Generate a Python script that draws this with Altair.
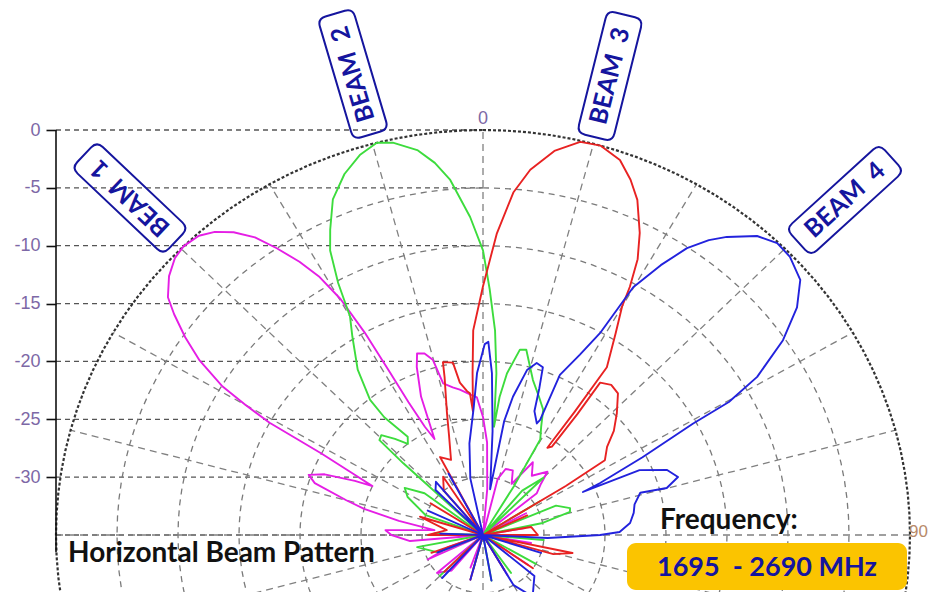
import altair as alt
import pandas as pd
import numpy as np

# ---------------- data ----------------
floor_db = -35                      # centre of the polar plot
ring_levels = [-30, -25, -20, -15, -10, -5]
outer_level = 0
y_tick_values = [-30, -25, -20, -15, -10, -5, 0]
hgrid_levels = [-35, -30, -25, -20, -15, -10, -5, 0]
radial_angles = list(range(0, 360, 15))
axis_angles = [0, 90, 180, 270]
beam_names = ["BEAM 1", "BEAM 2", "BEAM 3", "BEAM 4"]
beam_colors = ["#e51ee5", "#3ddc3d", "#e82222", "#2222dd"]

# (angle in degrees, level in dB); values below -35 dB sit at the centre
beam1 = [(-180, -37), (-160, -32), (-150, -37), (-140, -31), (-131, -30), (-124, -37),
         (-115, -30), (-110, -32), (-104, -37), (-95, -29), (-90, -27.5), (-87, -27),
         (-84, -31), (-80, -28), (-77, -25), (-75, -23.4), (-72, -20.5), (-70, -19.8),
         (-68, -21), (-66, -23.5), (-65, -25), (-63.5, -23), (-62, -20), (-61, -15),
         (-60, -12.5), (-59, -10.1), (-57, -7.3), (-55, -5.2), (-53, -3.3), (-51.5, -2.0),
         (-49, -0.9), (-46.5, -0.2), (-44.5, 0), (-42, -0.2), (-40, -0.8), (-38, -1.8),
         (-36, -3.2), (-34.3, -5), (-32.5, -7), (-31, -9), (-29.8, -11.5), (-29, -15),
         (-28.5, -19), (-28, -22), (-27, -24.5), (-25.6, -25.8), (-23, -22), (-20.5, -19.5),
         (-19, -18.4), (-17, -18.6), (-15.2, -19.3), (-14, -21.5), (-11, -22), (-8.6, -22.3),
         (-5, -22.8), (-2.4, -23.1), (0, -24.8), (2.4, -27), (5, -31), (8, -37), (14, -30),
         (18, -29), (23.6, -28.9), (28, -30), (33, -27.5), (38, -28.5), (44, -27.4),
         (47, -28.5), (50.7, -29.3), (54, -37), (62, -31), (70, -37), (80, -31.5), (88, -37),
         (100, -31), (110, -37), (125, -30.5), (135, -37), (150, -31), (165, -37), (180, -37)]

beam2 = [(-180, -37), (-165, -32), (-150, -37), (-135, -30), (-125, -37), (-112, -31),
         (-101, -29.5), (-96, -37), (-88, -31), (-80, -37), (-70, -30), (-62, -28),
         (-57.6, -27.4), (-53, -29), (-50, -37), (-46.5, -26), (-46, -23.2), (-44, -23),
         (-41, -24), (-38, -25), (-36, -24.5), (-38.5, -22), (-38.4, -20.1), (-35.7, -17.4),
         (-32, -14.8), (-30, -13.2), (-28.6, -10.2), (-27, -7.4), (-25.4, -5.8), (-23, -3.5),
         (-20, -1.8), (-17.1, -0.65), (-14.4, 0), (-12.3, -0.3), (-9.2, -1.3), (-7, -2.6),
         (-5, -4.2), (-2.2, -7.5), (0, -10.4), (1.5, -13.8), (3.2, -17.3), (4.5, -21),
         (5.5, -25.6), (6.5, -23), (8, -20.9), (10.7, -18.7), (12.5, -18.6), (14, -19.5),
         (17, -21), (21, -22.2), (24.5, -23.1), (27, -24.5), (29.6, -25.5), (31, -30),
         (33, -37), (40, -30), (45, -28), (50, -37), (58, -29.5), (62, -37), (67, -28.5),
         (72, -27.5), (74.4, -27.6), (78, -30), (82, -37), (95, -30), (105, -37), (120, -30),
         (132, -37), (145, -31), (160, -37), (170, -31), (180, -37)]

beam3 = [(-180, -37), (-165, -31), (-150, -37), (-135, -30.5), (-122, -37), (-110, -30.5),
         (-100, -37), (-90, -30.5), (-82, -32), (-73, -29.6), (-66, -37), (-57.5, -29.9),
         (-50, -37), (-40, -30), (-33, -29), (-30, -37), (-27.6, -27.4), (-22, -28),
         (-18, -26), (-15.6, -24), (-13, -21), (-12.4, -19.7), (-9.4, -19.9), (-8.2, -21.7),
         (-6, -22.5), (-5, -22.7), (-4.4, -24.3), (-3.5, -21), (-2.6, -17.3), (0, -13.5),
         (2.5, -8.9), (4.8, -5.3), (7, -3.2), (10, -1.3), (13.2, -0.1), (16, 0), (19.1, -0.7),
         (21.5, -2), (23.6, -3.4), (26.2, -5.9), (28, -8), (29.3, -10.4), (30, -12.2),
         (32, -14.5), (35, -17.3), (35.2, -22), (35, -25.8), (36.5, -25.5), (36.5, -22),
         (36.1, -18.7), (39, -18.3), (42.1, -18.5), (46.2, -19.8), (50, -21), (53.2, -22.3),
         (57.1, -23.1), (58, -27), (59.5, -37), (65, -31), (72, -37), (80, -31), (90, -30.5),
         (96, -37), (102, -27.5), (106, -29), (112, -37), (125, -30), (138, -37),
         (150, -31.5), (165, -37), (180, -37)]

beam4 = [(-180, -37), (-165, -31), (-150, -37), (-138, -30), (-125, -37), (-112, -31),
         (-100, -37), (-88, -31.5), (-78, -37), (-65, -30), (-55, -37), (-45, -29.5),
         (-40, -29), (-36, -37), (-28, -29), (-20, -37), (-12, -30), (-8, -27), (-4, -24),
         (-2, -21), (0.5, -18.5), (1.5, -18.3), (3, -21), (5, -26), (8.4, -31), (10, -25),
         (11.6, -22.8), (14.2, -20.3), (16.5, -19.5), (18.7, -19.7), (20, -21.5),
         (21.5, -23.5), (24.6, -24.4), (25.2, -24), (24.5, -19.8), (27, -17.5), (28.8, -15.1),
         (29.9, -10.3), (32, -7.5), (34, -5.1), (36, -3.5), (37.8, -2.4), (41, -0.76),
         (43.7, -0.1), (46.3, -0.2), (49.7, -0.9), (52.6, -2.6), (55.6, -5.2), (58.7, -8.7),
         (60.3, -11.8), (60.8, -15.3), (62.8, -20.3), (64.9, -24.4), (65.6, -26), (66.4, -21),
         (69.6, -18.9), (72.6, -18.25), (74.9, -19.4), (74.2, -21.6), (78, -22.3),
         (81.2, -22.5), (85.1, -22.9), (88.7, -23.8), (90, -25.4), (92.8, -29.7), (97, -37),
         (108, -30), (118, -37), (130, -29.5), (142.6, -28.3), (150, -30), (157, -37),
         (170, -31), (180, -37)]

beams = [beam1, beam2, beam3, beam4]

# ---------------- layout ----------------
W, H = 864, 584
XS = alt.Scale(domain=[-35, -35 + W / 12.2], nice=False, zero=False)
YS = alt.Scale(domain=[-(8 + H - 130) / 11.5714, (130 - 8) / 11.5714], nice=False, zero=False)
YAX = alt.Axis(values=y_tick_values, title=None, domain=False, grid=False, ticks=True,
               tickSize=10, tickColor="#111", tickWidth=1.6, labelPadding=6,
               labelFontSize=18, labelFont="Liberation Sans", labelColor="#7d68a6",
               labelExpr="datum.value == 0 ? '0' : '-' + abs(datum.value)")
X = alt.X("x:Q", scale=XS, axis=None)
Y = alt.Y("y:Q", scale=YS, axis=YAX)

polar_x = "max(datum.db - %d, 0) * sin(datum.theta * PI / 180)" % floor_db
polar_y = "max(datum.db - %d, 0) * cos(datum.theta * PI / 180) + %d" % (floor_db, floor_db)

# horizontal grid (left half only)
hgrid = alt.Chart(pd.DataFrame({"level": hgrid_levels})).transform_calculate(
    x="%d" % floor_db, x2="0", y="datum.level"
).mark_rule(color="#555", strokeDash=[5, 4], strokeWidth=1.3).encode(x=X, x2="x2:Q", y=Y)

# concentric rings
ang = list(range(0, 361, 3))
ring_df = pd.DataFrame([(lv, a) for lv in ring_levels for a in ang], columns=["db", "theta"])
rings = alt.Chart(ring_df).transform_calculate(x=polar_x, y=polar_y).mark_line(
    color="#7a7a7a", strokeDash=[6, 5], strokeWidth=1.3
).encode(x=X, y=Y, detail="db:N", order="theta:Q")

outer_df = pd.DataFrame([(outer_level, a) for a in ang], columns=["db", "theta"])
outer = alt.Chart(outer_df).transform_calculate(x=polar_x, y=polar_y).mark_line(
    color="#333", strokeDash=[3, 2], strokeWidth=2.2
).encode(x=X, y=Y, order="theta:Q")

# radial spokes: main axes from the centre, the others from the innermost ring
spoke_df = pd.DataFrame({"theta": radial_angles})
spoke_df["start"] = [0 if a in axis_angles else ring_levels[0] - floor_db for a in radial_angles]
radials = alt.Chart(spoke_df).transform_calculate(
    x="datum.start * sin(datum.theta * PI / 180)",
    y="datum.start * cos(datum.theta * PI / 180) + %d" % floor_db,
    x2="%d * sin(datum.theta * PI / 180)" % (outer_level - floor_db),
    y2="%d * cos(datum.theta * PI / 180) + %d" % (outer_level - floor_db, floor_db),
).mark_rule(color="#808080", strokeDash=[7, 5], strokeWidth=1.3).encode(
    x=X, y=Y, x2="x2:Q", y2="y2:Q")

# y axis line
axis_line = alt.Chart(pd.DataFrame({"v": [0]})).transform_calculate(
    x="-35", y="0", y2="-36.5"
).mark_rule(color="#111", strokeWidth=1.6).encode(x=X, y=Y, y2="y2:Q")

# beam traces
rows = []
for name, pts in zip(beam_names, beams):
    for i, (t, d) in enumerate(pts):
        rows.append({"beam": name, "i": i, "theta": t, "db": d})
beam_df = pd.DataFrame(rows)
traces = alt.Chart(beam_df).transform_calculate(x=polar_x, y=polar_y).mark_line(
    strokeWidth=1.9, strokeJoin="round"
).encode(
    x=X, y=Y,
    color=alt.Color("beam:N", scale=alt.Scale(domain=beam_names, range=beam_colors), legend=None),
    detail="beam:N", order="i:Q")

one = pd.DataFrame({"k": [0]})
NAVY = "#15159e"
box_path = ("M -0.87 -0.29 L 0.87 -0.29 Q 1 -0.29 1 -0.16 L 1 0.16 Q 1 0.29 0.87 0.29 "
            "L -0.87 0.29 Q -1 0.29 -1 0.16 L -1 -0.16 Q -1 -0.29 -0.87 -0.29 Z")


def beam_label(txt, px, py, angle):
    box = alt.Chart(one).mark_point(shape=box_path, size=126 * 126, angle=angle, filled=False,
                                    stroke=NAVY, strokeWidth=2, opacity=1).encode(
        x=alt.value(px - 56), y=alt.value(py - 8))
    t = alt.Chart(one).mark_text(text=txt, angle=angle, font="Lato", fontWeight="bold",
                                 fontSize=25, color=NAVY, align="center", baseline="middle").encode(
        x=alt.value(px - 56), y=alt.value(py - 8))
    return [box, t]


labels = []
labels += beam_label("BEAM\u00a0 1", 130, 198, 223.4)
labels += beam_label("BEAM\u00a0 2", 353, 74, 253.5)
labels += beam_label("BEAM\u00a0 3", 610, 76, 284)
labels += beam_label("BEAM\u00a0 4", 845, 200, 317.7)

zero_lbl = alt.Chart(one).mark_text(text="0", font="Liberation Sans", fontSize=18, color="#7d68a6",
                                    align="center", baseline="bottom").encode(
    x=alt.value(483 - 56), y=alt.value(128 - 8))
ninety_lbl = alt.Chart(one).mark_text(text="90", font="Liberation Sans", fontSize=17, color="#b88a6a",
                                      align="left", baseline="middle").encode(
    x=alt.value(909 - 56), y=alt.value(532 - 8))
title_lbl = alt.Chart(one).mark_text(text="Horizontal Beam Pattern", font="Lato", fontWeight="bold",
                                     fontSize=28, color="#111", align="left",
                                     baseline="alphabetic").encode(
    x=alt.value(68 - 56), y=alt.value(562 - 8))
freq_lbl = alt.Chart(one).mark_text(text="Frequency:", font="Lato", fontWeight="bold",
                                    fontSize=28, color="#111", align="left",
                                    baseline="alphabetic").encode(
    x=alt.value(660 - 56), y=alt.value(529 - 8))
gold = alt.Chart(one).mark_rect(color="#fbc400", cornerRadius=9).encode(
    x=alt.value(627 - 56), x2=alt.value(907 - 56), y=alt.value(543 - 8), y2=alt.value(590 - 8))
freq_val = alt.Chart(one).mark_text(text="1695\u00a0 - 2690 MHz", font="Lato", fontWeight="bold",
                                    fontSize=27, color=NAVY, align="center",
                                    baseline="alphabetic").encode(
    x=alt.value(767 - 56), y=alt.value(576 - 8))

chart = alt.layer(
    hgrid, rings, radials, outer, axis_line, traces,
    *labels, zero_lbl, ninety_lbl, title_lbl, freq_lbl, gold, freq_val
).properties(
    width=W, height=H,
    autosize=alt.AutoSizeParams(type="none"),
    padding={"left": 48, "top": 0, "right": 8, "bottom": 0},
    background="white",
).configure_view(stroke=None)

chart.save("out.html", embed_options={"renderer": "svg", "actions": False})
